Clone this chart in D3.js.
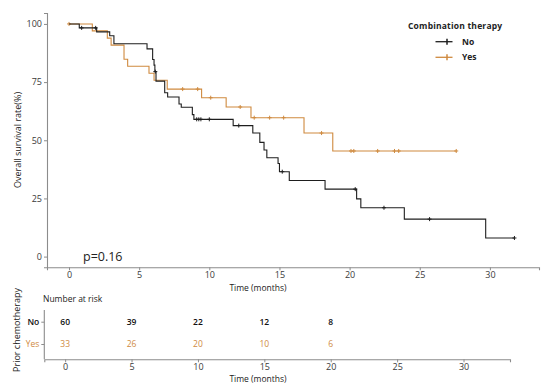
<!DOCTYPE html>
<html>
<head>
<meta charset="utf-8">
<script src="https://cdn.jsdelivr.net/npm/d3@7"></script>
<style>
  body { margin: 0; background: #fff; }
  svg { display: block; font-family: "Open Sans", "Noto Sans", sans-serif; }
</style>
</head>
<body>
<svg id="chart" width="553" height="389"></svg>
<script>
// ---- data ----
const groups = ["No", "Yes"];
const colors = ["#1e1e1e", "#cf8a3f"];
// step points: time (months) and survival (%) after each drop
const noTimes = [0, 0.73, 1.97, 2.9, 3.2, 5.56, 5.96, 6.06, 6.12, 6.2, 6.82, 7.03, 7.84, 8.0, 8.79, 8.9, 11.7, 13.1, 13.6, 13.9, 14.1, 14.9, 15.0, 15.7, 18.25, 20.5, 20.8, 23.9, 29.7];
const noSurv  = [100, 98.3, 96.6, 94.9, 91.5, 89.3, 84.7, 82.3, 79.5, 75.4, 70.4, 68.6, 65.6, 64.2, 61.0, 59.0, 56.3, 53.1, 49.1, 45.8, 42.5, 40.0, 36.5, 32.7, 29.0, 24.8, 21.0, 16.1, 8.0];
const noCensor = [0.9, 1.9, 6.15, 9.1, 9.25, 9.4, 10.0, 12.1, 15.2, 20.4, 22.45, 25.7, 31.75];
const noEnd = 31.75;

const yesTimes = [0, 1.66, 2.73, 3.0, 3.92, 4.18, 5.7, 6.06, 7.0, 9.45, 11.2, 12.97, 16.75, 18.8];
const yesSurv  = [100, 97.0, 93.9, 90.9, 84.8, 81.8, 78.8, 75.8, 72.0, 68.3, 64.3, 59.7, 53.1, 45.4];
const yesCensor = [0, 8.1, 9.17, 10.1, 12.2, 13.2, 14.3, 15.3, 18.0, 20.1, 20.3, 22.0, 23.2, 23.5, 27.6];
const yesEnd = 27.6;

const xTicks = [0, 5, 10, 15, 20, 25, 30];
const yTicks = [0, 25, 50, 75, 100];
const riskTimes = [0, 5, 10, 15, 20];
const riskNo  = [60, 39, 22, 12, 8];
const riskYes = [33, 26, 20, 10, 6];
const pText = "p=0.16";

// ---- drawing ----
const svg = d3.select("#chart");
const axisColor = "#8c8c8c";
const textColor = "#3a3a3a";

const x = d3.scaleLinear().domain([-1.57, 33.5]).range([47, 539]);
const y = d3.scaleLinear().domain([-4.6, 104.7]).range([267.3, 13]);

// axes main
const gx = svg.append("g").attr("transform", "translate(0,267.3)")
  .call(d3.axisBottom(x).tickValues(xTicks).tickSize(3).tickPadding(1));
const gy = svg.append("g").attr("transform", "translate(47,0)")
  .call(d3.axisLeft(y).tickValues(yTicks).tickSize(3).tickPadding(2));
[gx, gy].forEach(g => {
  g.select(".domain").attr("stroke", axisColor).attr("stroke-width", 1.1);
  g.selectAll(".tick line").attr("stroke", axisColor);
  g.selectAll(".tick text").attr("fill", textColor).style("font-size", "9px")
    .style("font-family", "'Open Sans', sans-serif");
});

svg.append("text").attr("x", 258).attr("y", 291).attr("text-anchor", "middle")
  .attr("fill", "#222").style("font-size", "8.5px").text("Time (months)");
svg.append("text").attr("transform", "translate(21,140) rotate(-90)").attr("text-anchor", "middle")
  .attr("fill", "#222").style("font-size", "9px").text("Overall survival rate(%)");

// curves
function stepData(times, surv, end) {
  const pts = times.map((t, i) => [t, surv[i]]);
  pts.push([end, surv[surv.length - 1]]);
  return pts;
}
function survAt(times, surv, t) {
  let v = surv[0];
  for (let i = 0; i < times.length; i++) if (times[i] <= t) v = surv[i];
  return v;
}
const line = d3.line().x(d => x(d[0])).y(d => y(d[1])).curve(d3.curveStepAfter);
const series = [
  { times: noTimes, surv: noSurv, censor: noCensor, end: noEnd, color: colors[0] },
  { times: yesTimes, surv: yesSurv, censor: yesCensor, end: yesEnd, color: colors[1] }
];
[series[1], series[0]].forEach(s => {
  svg.append("path").datum(stepData(s.times, s.surv, s.end))
    .attr("d", line).attr("fill", "none").attr("stroke", s.color).attr("stroke-width", 1.1);
  const cg = svg.append("g");
  s.censor.forEach(t => {
    const cx = x(t), cy = y(survAt(s.times, s.surv, t));
    cg.append("path").attr("d", `M${cx - 2},${cy}H${cx + 2}M${cx},${cy - 2}V${cy + 2}`)
      .attr("stroke", s.color).attr("stroke-width", 1);
  });
});

// p value
svg.append("text").attr("x", 83).attr("y", 261).attr("fill", "#222")
  .style("font-size", "12.5px").text(pText);

// legend
const lg = svg.append("g");
lg.append("text").attr("x", 408).attr("y", 29).attr("fill", "#222")
  .style("font-size", "8.5px").style("font-weight", "bold").style("letter-spacing", "0.2px")
  .text("Combination therapy");
groups.forEach((g, i) => {
  const yy = 41.7 + i * 15.6;
  lg.append("line").attr("x1", 435.5).attr("x2", 452.5).attr("y1", yy).attr("y2", yy)
    .attr("stroke", colors[i]).attr("stroke-width", 1.3);
  lg.append("path").attr("d", `M${447},${yy - 3}V${yy + 3}`)
    .attr("stroke", colors[i]).attr("stroke-width", 1.5);
  lg.append("text").attr("x", 462).attr("y", yy + 3).attr("fill", "#222")
    .style("font-size", "8.5px").style("font-weight", "bold").text(g);
});

// risk table
const xr = d3.scaleLinear().domain([-1.57, 33.5]).range([44.3, 510]);
const yr = d3.scalePoint().domain(groups).range([321.7, 344]);
const gxr = svg.append("g").attr("transform", "translate(0,359.3)")
  .call(d3.axisBottom(xr).tickValues(xTicks).tickSize(3).tickPadding(1));
const gyr = svg.append("g").attr("transform", "translate(44.3,0)")
  .call(d3.axisLeft(yr).tickSize(3).tickPadding(2));
gyr.select(".domain").attr("d", "M0,310V359.3");
[gxr, gyr].forEach(g => {
  g.select(".domain").attr("stroke", axisColor).attr("stroke-width", 1.1);
  g.selectAll(".tick line").attr("stroke", axisColor);
  g.selectAll(".tick text").style("font-size", "9px")
    .style("font-family", "'Open Sans', sans-serif");
});
gxr.selectAll(".tick text").attr("fill", textColor);
gyr.selectAll(".tick text").attr("fill", (d, i) => i === 0 ? "#111" : colors[1])
  .style("font-weight", (d, i) => i === 0 ? "600" : "normal").style("font-size", "8.5px");

svg.append("text").attr("x", 43).attr("y", 301.5).attr("fill", "#222")
  .style("font-size", "8.5px").text("Number at risk");
svg.append("text").attr("x", 258).attr("y", 382).attr("text-anchor", "middle")
  .attr("fill", "#222").style("font-size", "8.5px").text("Time (months)");
svg.append("text").attr("transform", "translate(20,330) rotate(-90)").attr("text-anchor", "middle")
  .attr("fill", "#222").style("font-size", "9px").text("Prior chemotherapy");

[riskNo, riskYes].forEach((arr, gi) => {
  arr.forEach((v, i) => {
    svg.append("text").attr("x", xr(riskTimes[i])).attr("y", yr(groups[gi]) + 3)
      .attr("text-anchor", "middle")
      .attr("fill", gi === 0 ? "#111" : colors[1])
      .style("font-size", "8.5px").style("font-weight", gi === 0 ? "600" : "normal")
      .text(v);
  });
});
</script>
</body>
</html>
